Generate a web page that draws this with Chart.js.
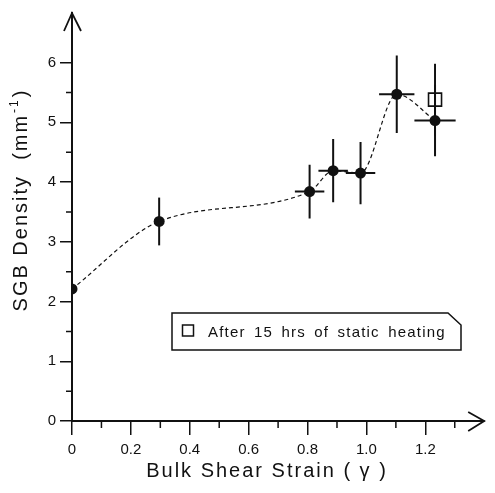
<!DOCTYPE html>
<html><head><meta charset="utf-8">
<script src="https://cdn.jsdelivr.net/npm/chart.js@4/dist/chart.umd.min.js"></script>
<style>html,body{margin:0;padding:0;background:#fff;}canvas{display:block;}</style>
</head><body>
<canvas id="c" width="495" height="493"></canvas>
<script>
// ---- data ----
const strain      = [0, 0.296, 0.807, 0.887, 0.98, 1.103, 1.233];
const density     = [2.21, 3.34, 3.84, 4.19, 4.15, 5.47, 5.03];
const densityErr  = [0, 0.40, 0.45, 0.53, 0.52, 0.65, 0.60];
const strainErr   = [0, 0, 0.05, 0.05, 0.05, 0.06, 0.07];
const heatedStrain  = [1.233];
const heatedDensity = [5.38];
const heatedErr     = [0.60];
const xTicks = [0, 0.2, 0.4, 0.6, 0.8, 1.0, 1.2];
const xMinor = [0.1, 0.3, 0.5, 0.7, 0.9, 1.1, 1.3];
const yTicks = [0, 1, 2, 3, 4, 5, 6];
const yMinor = [0.5, 1.5, 2.5, 3.5, 4.5, 5.5];
const xTitle = 'Bulk Shear Strain ( \u03B3 )';
const yTitleMain = 'SGB Density  (mm';
const yTitleSup = '-1';
const yTitleEnd = ')';
const legendLabel = 'After 15 hrs of static heating';

const FONT = '"Liberation Sans", Arial, Helvetica, sans-serif';
const INK = '#111';

const pts = strain.map((x, i) => ({x, y: density[i]}));
const heated = heatedStrain.map((x, i) => ({x, y: heatedDensity[i]}));

function spacing(ctx, ls, ws) {
  try { ctx.letterSpacing = ls; } catch (e) {}
  try { ctx.wordSpacing = ws; } catch (e) {}
}

const decor = {
  id: 'decor',
  afterDatasetsDraw(chart) {
    const {ctx, scales: {x, y}} = chart;
    ctx.save();
    ctx.strokeStyle = INK; ctx.lineCap = 'butt';
    ctx.lineWidth = 2;
    const bar = (xv, yv, ex, ey) => {
      const px = x.getPixelForValue(xv), py = y.getPixelForValue(yv);
      ctx.beginPath();
      if (ey) { ctx.moveTo(px, y.getPixelForValue(yv + ey)); ctx.lineTo(px, y.getPixelForValue(yv - ey)); }
      if (ex) { ctx.moveTo(x.getPixelForValue(xv - ex), py); ctx.lineTo(x.getPixelForValue(xv + ex), py); }
      ctx.stroke();
    };
    strain.forEach((xv, i) => bar(xv, density[i], strainErr[i], densityErr[i]));
    heatedStrain.forEach((xv, i) => bar(xv, heatedDensity[i], 0, heatedErr[i]));
    ctx.restore();
  },
  afterDraw(chart) {
    const {ctx, scales: {x, y}, chartArea: ca} = chart;
    ctx.save();
    ctx.strokeStyle = INK; ctx.fillStyle = INK;
    // minor ticks
    ctx.lineWidth = 1.5;
    ctx.beginPath();
    xMinor.forEach(v => { const px = x.getPixelForValue(v); ctx.moveTo(px, ca.bottom); ctx.lineTo(px, ca.bottom + 7); });
    yMinor.forEach(v => { const py = y.getPixelForValue(v); ctx.moveTo(ca.left, py); ctx.lineTo(ca.left - 6, py); });
    ctx.stroke();
    // arrows
    ctx.lineWidth = 1.8;
    ctx.beginPath();
    ctx.moveTo(ca.left - 8, ca.top + 18); ctx.lineTo(ca.left, ca.top); ctx.lineTo(ca.left + 9, ca.top + 18);
    ctx.moveTo(ca.right - 16, ca.bottom - 9); ctx.lineTo(ca.right, ca.bottom); ctx.lineTo(ca.right - 16, ca.bottom + 10);
    ctx.stroke();
    // axis titles
    ctx.font = '20px ' + FONT;
    ctx.textBaseline = 'alphabetic';
    ctx.textAlign = 'center';
    spacing(ctx, '2px', '0px');
    ctx.fillText(xTitle, 267, 477);
    ctx.save();
    ctx.translate(27, 200);
    ctx.rotate(-Math.PI / 2);
    ctx.textAlign = 'left';
    ctx.font = '20px ' + FONT;
    const w1 = ctx.measureText(yTitleMain).width;
    ctx.font = '12px ' + FONT;
    const w2 = ctx.measureText(yTitleSup).width;
    ctx.font = '20px ' + FONT;
    const w3 = ctx.measureText(yTitleEnd).width;
    let sx = -(w1 + w2 + w3 + 2) / 2;
    ctx.fillText(yTitleMain, sx, 0); sx += w1 + 1;
    ctx.font = '12px ' + FONT;
    ctx.fillText(yTitleSup, sx, -9); sx += w2 + 1;
    ctx.font = '20px ' + FONT;
    ctx.fillText(yTitleEnd, sx, 0);
    ctx.restore();
    // legend box
    spacing(ctx, '1.2px', '3px');
    ctx.lineWidth = 1.5;
    ctx.beginPath();
    ctx.moveTo(172, 313); ctx.lineTo(448, 313); ctx.lineTo(461, 325); ctx.lineTo(461, 350); ctx.lineTo(172, 350); ctx.closePath();
    ctx.stroke();
    ctx.strokeRect(182.5, 325, 11, 11);
    ctx.font = '15px ' + FONT;
    ctx.textAlign = 'left';
    ctx.fillText(legendLabel, 208, 337);
    spacing(ctx, '0px', '0px');
    ctx.restore();
  }
};

const tickFont = {family: FONT, size: 15};

new Chart(document.getElementById('c'), {
  type: 'scatter',
  data: {
    datasets: [
      { data: pts, showLine: true, borderColor: INK, borderWidth: 1.2, borderDash: [4, 3],
        cubicInterpolationMode: 'monotone', pointRadius: 0, fill: false },
      { data: pts, showLine: false, pointRadius: 5.5, pointBackgroundColor: INK, pointBorderColor: INK, pointBorderWidth: 0 },
      { data: heated, showLine: false, pointStyle: 'rect', pointRadius: 9.2, pointBackgroundColor: '#fff',
        pointBorderColor: INK, pointBorderWidth: 1.6 }
    ]
  },
  options: {
    responsive: false, animation: false, devicePixelRatio: 1,
    layout: {padding: {top: 10, right: 2, left: 0, bottom: 0}},
    plugins: {legend: {display: false}, tooltip: {enabled: false}},
    scales: {
      x: {
        type: 'linear', min: 0, max: 1.4,
        afterFit(s) { s.height = 72; },
        afterBuildTicks(s) { s.ticks = xTicks.map(v => ({value: v})); },
        grid: {display: true, drawOnChartArea: false, drawTicks: true, tickLength: 14, color: INK, lineWidth: 1.5},
        border: {display: true, color: INK, width: 2},
        ticks: {font: tickFont, color: INK, padding: 6, maxRotation: 0, autoSkip: false,
                callback: v => v === 0 ? '0' : Number(v).toFixed(1)}
      },
      y: {
        type: 'linear', min: 0, max: 6.83,
        afterFit(s) { s.width = 72; },
        afterBuildTicks(s) { s.ticks = yTicks.map(v => ({value: v})); },
        grid: {display: true, drawOnChartArea: false, drawTicks: true, tickLength: 12, color: INK, lineWidth: 1.5},
        border: {display: true, color: INK, width: 2},
        ticks: {font: tickFont, color: INK, padding: 4, autoSkip: false, callback: v => String(v)}
      }
    }
  },
  plugins: [decor]
});
</script>
</body></html>
